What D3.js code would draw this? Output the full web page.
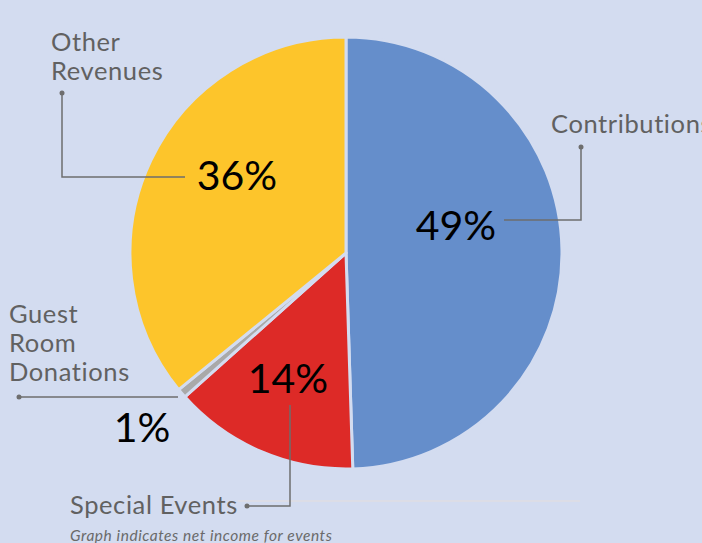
<!DOCTYPE html>
<html>
<head>
<meta charset="utf-8">
<script src="https://cdn.jsdelivr.net/npm/d3@7"></script>
<style>
  html, body { margin: 0; padding: 0; background: #d3dcf0; overflow: hidden; }
  .cat { font-family: Lato, sans-serif; font-size: 25.5px; fill: #616161; letter-spacing: 0.6px; }
  .pct { font-family: Lato, sans-serif; font-size: 41px; fill: #000; }
  .note { font-family: Lato, sans-serif; font-size: 15.5px; font-style: italic; fill: #6a6a6a; letter-spacing: 0.55px; }
</style>
</head>
<body>
<div id="chart"></div>
<script>
// Dados do gráfico
const categories = ['Contributions', 'Special Events', 'Guest Room Donations', 'Other Revenues'];
const values = [49.5, 13.9, 0.7, 35.9];
const pctLabels = ['49%', '14%', '1%', '36%'];
const sliceColors = ['#658ecb', '#dd2a27', '#a9a9a9', '#fdc52b'];
const noteText = 'Graph indicates net income for events';

const width = 702, height = 543;
const cx = 346, cy = 253, radius = 216;

const svg = d3.select('#chart').append('svg')
    .attr('width', width)
    .attr('height', height);

svg.append('rect')
    .attr('width', width)
    .attr('height', height)
    .attr('fill', '#d3dcf0');

// Linha clara atrás de "Special Events"
svg.append('line')
    .attr('x1', 238).attr('x2', 580)
    .attr('y1', 501).attr('y2', 501)
    .attr('stroke', '#dcdde6')
    .attr('stroke-width', 2);

const pie = d3.pie().sort(null).value(d => d);
const arc = d3.arc().innerRadius(0).outerRadius(radius);
const arcs = pie(values);

const g = svg.append('g').attr('transform', `translate(${cx},${cy})`);

g.selectAll('path.slice')
    .data(arcs)
    .enter()
    .append('path')
    .attr('class', 'slice')
    .attr('d', arc)
    .attr('fill', (d, i) => sliceColors[i])
    .attr('stroke', '#d3dcf0')
    .attr('stroke-width', 3)
    .attr('stroke-linejoin', 'round');

// Posições dos rótulos e das linhas de chamada
const layout = [
    { pct: [456, 240], name: [[551, 133]], leader: [[504, 220], [581, 220], [581, 147]] },
    { pct: [288, 393], name: [[70, 514]], leader: [[290, 405], [290, 506], [247, 506]] },
    { pct: [142, 442], name: [[9, 323], [9, 352], [9, 381]], leader: [[178, 397], [19, 397]] },
    { pct: [237, 190], name: [[51, 51], [51, 80]], leader: [[185, 177], [62, 177], [62, 93]] }
];
const nameLines = [['Contributions'], ['Special Events'], ['Guest', 'Room', 'Donations'], ['Other', 'Revenues']];

const line = d3.line();

layout.forEach((l, i) => {
    svg.append('path')
        .attr('d', line(l.leader))
        .attr('fill', 'none')
        .attr('stroke', '#6e6e6e')
        .attr('stroke-width', 1.5);

    const end = l.leader[l.leader.length - 1];
    svg.append('circle')
        .attr('cx', end[0]).attr('cy', end[1])
        .attr('r', 2.5)
        .attr('fill', '#6e6e6e');

    nameLines[i].forEach((t, j) => {
        svg.append('text')
            .attr('class', 'cat')
            .attr('x', l.name[j][0])
            .attr('y', l.name[j][1])
            .text(t);
    });

    svg.append('text')
        .attr('class', 'pct')
        .attr('x', l.pct[0])
        .attr('y', l.pct[1])
        .attr('text-anchor', 'middle')
        .text(pctLabels[i]);
});

svg.append('text')
    .attr('class', 'note')
    .attr('x', 70)
    .attr('y', 541)
    .text(noteText);
</script>
</body>
</html>
